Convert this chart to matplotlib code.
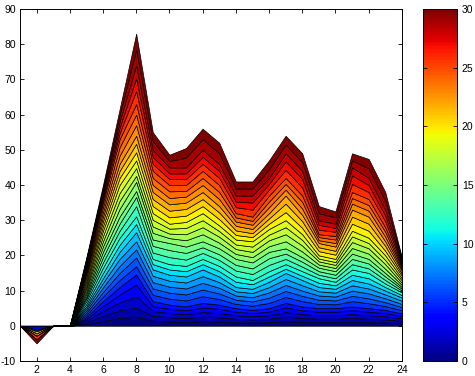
import numpy as np
import matplotlib
matplotlib.use("Agg")
import matplotlib.pyplot as plt
from matplotlib import cm, colors

plt.rcParams['font.family'] = ['Liberation Sans', 'DejaVu Sans']
plt.rcParams['axes.unicode_minus'] = False

x = np.arange(1, 25)

# cumulative layer tops (after layer 1..30), one row per x
tops = [
    [0] * 30,
    [0, 0, -1.2, -1.2, -1.2, -1.2, -1.2, -1.2, -1.2, -1.6, -1.6, -1.6, -1.6, -1.6, -1.6,
     -1.6, -1.6, -1.6, -2.2, -2.2, -2.2, -2.2, -2.9, -2.9, -2.9, -3.9, -3.9, -3.9, -3.9, -5.0],
    [0] * 30,
    [0] * 30,
    [0.5, 1.0, 1.5, 2.0, 2.5, 3.1, 3.7, 4.3, 4.9, 5.5, 6.2, 7.0, 7.7, 8.3, 9.0,
     9.7, 10.5, 11.2, 12.0, 12.8, 13.7, 14.5, 15.2, 15.8, 16.5, 17.2, 17.8, 18.5, 19.0, 19.5],
    [1.4, 2.8, 4.2, 5.6, 7.0, 8.3, 9.6, 10.9, 12.2, 13.5, 15.0, 16.5, 18.0, 19.5, 21.0,
     22.5, 24.0, 25.5, 27.0, 28.3, 29.7, 31.0, 32.3, 33.7, 35.0, 36.0, 37.0, 38.0, 39.0, 40.0],
    [2.2, 4.4, 6.6, 8.8, 11.0, 13, 15, 17, 19, 21, 23, 25, 27, 29, 31,
     33.2, 35.5, 37.7, 40, 42, 44, 46, 48.3, 50.7, 53, 54.7, 56.3, 58, 59.8, 61.5],
    [2.6, 5.1, 8.3, 11.7, 14.6, 16.9, 19.4, 21.7, 24, 26.6, 28.9, 31.1, 34, 36.6, 38.3,
     40.9, 42.6, 44.8, 47, 49.3, 51.7, 54, 57, 60, 63, 66.7, 70.3, 74, 78.5, 83],
    [1.4, 2.8, 4.2, 5.6, 7.0, 8.8, 10.6, 12.4, 14.2, 16.0, 17.5, 19.0, 20.8, 22.7, 24.5,
     26.4, 28.2, 30.1, 32, 34, 36, 38, 40, 42, 44, 46, 48, 50, 52.5, 55],
    [1.2, 2.4, 3.6, 4.8, 6.0, 7.7, 9.4, 11.1, 12.8, 14.5, 16, 17.5, 19.5, 21.5, 23.5,
     24.9, 26.2, 27.6, 29, 30.8, 32.7, 34.5, 36.3, 38.2, 40, 41.7, 43.3, 45, 46.8, 48.6],
    [1.1, 2.2, 3.3, 4.4, 5.5, 7.2, 8.9, 10.6, 12.3, 14, 15.5, 17, 18.8, 20.7, 22.5,
     24.3, 26, 27.8, 29.5, 31.3, 33.2, 35, 36.7, 38.3, 40, 41.7, 43.3, 45, 47.8, 50.5],
    [1.3, 2.6, 3.9, 5.2, 6.5, 8.4, 10.3, 12.2, 14.1, 16, 17.5, 19, 20.7, 22.3, 24,
     26, 28, 30, 32, 34, 36, 38, 40, 42, 44, 46, 48, 50, 53, 56],
    [1.2, 2.4, 3.6, 4.8, 6, 7.6, 9.2, 10.8, 12.4, 14, 15.5, 17, 18.7, 20.3, 22,
     23.6, 25.3, 26.9, 28.5, 30.3, 32.2, 34, 36, 38, 40, 42, 44, 46, 49, 52],
    [1, 2, 3, 4, 5, 6.2, 7.4, 8.6, 9.8, 11, 12.5, 14, 15.7, 17.3, 19,
     20.4, 21.8, 23.1, 24.5, 25.8, 27.1, 28.4, 29.6, 30.8, 32, 33.7, 35.3, 37, 39, 41],
    [0.9, 1.8, 2.7, 3.6, 4.5, 5.7, 6.9, 8.1, 9.3, 10.5, 11.8, 13, 14.7, 16.3, 18,
     19.5, 21, 22.5, 24, 25.2, 26.3, 27.5, 28.7, 29.8, 31, 33, 35, 37, 39, 41],
    [1, 2, 3, 4, 5, 6.5, 8, 9.5, 11, 12.5, 14, 15.5, 17.3, 19.2, 21,
     22.6, 24.3, 25.9, 27.5, 29, 30.5, 32, 33.7, 35.3, 37, 38.7, 40.3, 42, 44.5, 47],
    [1.3, 2.6, 3.9, 5.2, 6.5, 8.2, 9.9, 11.6, 13.3, 15, 16.2, 17.5, 19, 20.5, 22,
     24, 26, 28, 30, 32.3, 34.7, 37, 38.7, 40.3, 42, 44.3, 46.7, 49, 51.5, 54],
    [1.1, 2.2, 3.3, 4.4, 5.5, 7, 8.5, 10, 11.5, 13, 14.2, 15.5, 16.8, 18.2, 19.5,
     21.1, 22.8, 24.4, 26, 27.8, 29.7, 31.5, 33.3, 35.2, 37, 39.3, 41.7, 44, 46.5, 49],
    [1, 2, 3, 4, 5, 6.2, 7.4, 8.6, 9.8, 11, 12.2, 13.5, 14.5, 15.5, 16.5,
     17.4, 18.3, 19.1, 20, 21.2, 22.3, 23.5, 24.3, 25.2, 26, 27.3, 28.7, 30, 32, 34],
    [1, 2, 3, 4, 5, 6.1, 7.2, 8.3, 9.4, 10.5, 11.5, 12.5, 13.5, 14.5, 15.5,
     16.4, 17.3, 18.1, 19, 20.2, 21.3, 22.5, 23.5, 24.5, 25.5, 26.7, 27.8, 29, 30.8, 32.5],
    [1.1, 2.2, 3.3, 4.4, 5.5, 7, 8.5, 10, 11.5, 13, 14.5, 16, 17.5, 19, 20.5,
     22.1, 23.8, 25.4, 27, 29, 31, 33, 34.7, 36.3, 38, 40.3, 42.7, 45, 47, 49],
    [1, 2, 3, 4, 5, 6.4, 7.8, 9.2, 10.6, 12, 13.5, 15, 16.3, 17.7, 19,
     20.5, 22, 23.5, 25, 27, 29, 31, 32.7, 34.3, 36, 38, 40, 42, 44.7, 47.4],
    [0.9, 1.8, 2.7, 3.6, 4.5, 5.6, 6.7, 7.8, 8.9, 10, 11, 12, 13, 14, 15,
     16.2, 17.5, 18.7, 20, 21.3, 22.7, 24, 25.3, 26.7, 28, 29.7, 31.3, 33, 35.5, 38],
    [0.7, 1.4, 2.1, 2.8, 3.5, 4.4, 5.3, 6.2, 7.1, 8, 8.7, 9.5, 10, 10.5, 11,
     11.6, 12.2, 12.9, 13.5, 14.2, 14.8, 15.5, 16, 16.5, 17, 17.5, 18, 18.5, 19, 19.4],
]

cum = np.array(tops, dtype=float).T          # shape (30, 24)
layers = np.diff(np.vstack([np.zeros(len(x)), cum]), axis=0)

n = layers.shape[0]
jet = plt.get_cmap('jet')
layer_colors = [jet(i / (n - 1)) for i in range(n)]

fig = plt.figure(figsize=(4.75, 3.76), dpi=100)
ax = fig.add_axes([0.042, 0.040, 0.804, 0.936])

ax.stackplot(x, layers, colors=layer_colors, edgecolor='black', linewidth=0.5)

ax.set_xlim(1, 24)
ax.set_ylim(-10, 90)
ax.set_xticks(np.arange(2, 25, 2))
ax.set_yticks(np.arange(-10, 91, 10))
ax.tick_params(direction='in', top=True, right=True, labelsize=7.5, length=3, width=0.6, pad=3)
for s in ax.spines.values():
    s.set_linewidth(0.7)

cax = fig.add_axes([0.891, 0.040, 0.071, 0.936])
sm = cm.ScalarMappable(norm=colors.Normalize(0, 30), cmap=jet)
cb = fig.colorbar(sm, cax=cax, ticks=np.arange(0, 31, 5))
cb.outline.set_linewidth(0.7)
cax.tick_params(direction='in', left=True, right=True, labelsize=7.5, length=3, width=0.6)

fig.savefig('out.png', dpi=100)
